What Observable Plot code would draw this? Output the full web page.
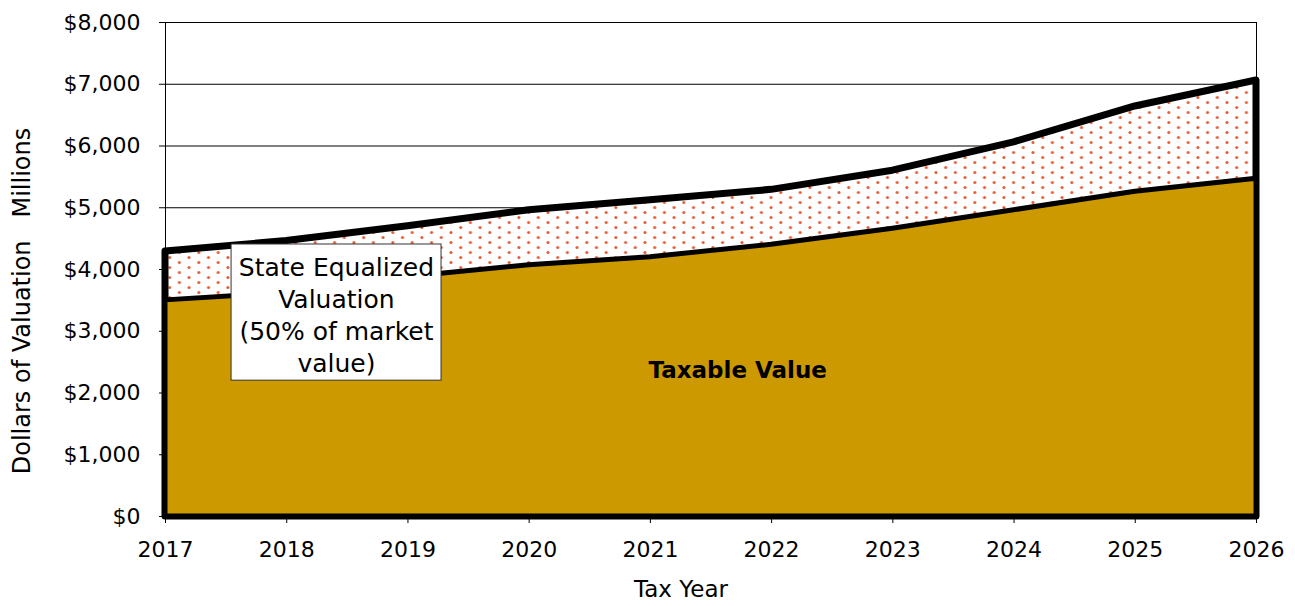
<!DOCTYPE html>
<html>
<head>
<meta charset="utf-8">
<script src="https://cdn.jsdelivr.net/npm/d3@7"></script>
<script src="https://cdn.jsdelivr.net/npm/@observablehq/plot@0.6"></script>
<style>
  body { margin: 0; background: #fff; }
</style>
</head>
<body>
<div id="chart"></div>
<script>
// Tax years and valuations, in millions of dollars
const years = [2017, 2018, 2019, 2020, 2021, 2022, 2023, 2024, 2025, 2026];
const stateEqualized = [4290, 4460, 4700, 4960, 5120, 5290, 5600, 6060, 6640, 7060];
const taxableValue = [3500, 3620, 3880, 4070, 4200, 4400, 4660, 4960, 5260, 5470];
const yTicks = [0, 1000, 2000, 3000, 4000, 5000, 6000, 7000, 8000];

const sevLabel = ["State Equalized", "Valuation", "(50% of market", "value)"];
const taxableLabel = "Taxable Value";
const xTitle = "Tax Year";
const yTitle = "Dollars of Valuation\u00a0\u00a0\u00a0Millions";

// Callout box for the state equalized band (data units)
const sevBox = [{x1: 2017.545, x2: 2019.277, y1: 2200, y2: 4405, x: 2018.41, y: 3280}];
const taxableSpot = [{x: 2021.72, y: 2364}];

const rows = years.map((year, i) => ({year, sev: stateEqualized[i], taxable: taxableValue[i]}));

const gold = "#cc9900";
const dotColor = "#e45a30";

const marginLeft = 165, marginTop = 22, marginBottom = 90, height = 606;

const chart = Plot.plot({
  width: 1295,
  height,
  marginLeft,
  marginRight: 39,
  marginTop,
  marginBottom,
  style: {fontFamily: "DejaVu Sans, sans-serif", fontSize: "22px", color: "#000", background: "#fff"},
  x: {domain: [2017, 2026]},
  y: {domain: [0, 8000]},
  marks: [
    Plot.ruleY(yTicks, {stroke: "#000", strokeWidth: 1}),
    Plot.areaY(rows, {x: "year", y: "sev", fill: "url(#sev-dots)", stroke: "#000", strokeWidth: 7, strokeLinejoin: "round"}),
    Plot.areaY(rows, {x: "year", y: "taxable", fill: gold, stroke: "#000", strokeWidth: 5, strokeLinejoin: "round"}),
    Plot.frame({stroke: "#000", strokeWidth: 1}),
    Plot.axisY(yTicks, {tickFormat: d3.format("$,"), tickSize: 6, tickPadding: 19, fontSize: 22, label: null}),
    Plot.axisX(years, {tickFormat: "d", tickSize: 7, tickPadding: 18, fontSize: 22, label: null}),
    Plot.rect(sevBox, {x1: "x1", x2: "x2", y1: "y1", y2: "y2", fill: "#fff", stroke: "#333", strokeWidth: 1}),
    Plot.text(sevBox, {x: "x", y: "y", text: () => sevLabel.join("\n"), fontSize: 25, lineHeight: 1.28, fill: "#000"}),
    Plot.text(taxableSpot, {x: "x", y: "y", text: () => taxableLabel, fontSize: 23, fontWeight: "bold", fill: "#000"}),
    Plot.text([xTitle], {frameAnchor: "bottom", dx: -30, dy: 80, fontSize: 23, fill: "#000"})
  ]
});

const svg = d3.select(chart);

// Dotted fill used by the state equalized band
const defs = svg.insert("defs", ":first-child");
const pat = defs.append("pattern")
  .attr("id", "sev-dots")
  .attr("patternUnits", "userSpaceOnUse")
  .attr("width", 19.4)
  .attr("height", 10);
pat.append("rect").attr("width", 19.4).attr("height", 10).attr("fill", "#fff");
pat.append("circle").attr("cx", 4.8).attr("cy", 2.5).attr("r", 1.5).attr("fill", dotColor);
pat.append("circle").attr("cx", 14.5).attr("cy", 7.5).attr("r", 1.5).attr("fill", dotColor);

// Rotated y-axis title, set a little below the frame's middle
svg.append("text")
  .attr("transform", `translate(22,${(marginTop + height - marginBottom) / 2 + 32}) rotate(-90)`)
  .attr("text-anchor", "middle")
  .attr("dominant-baseline", "central")
  .attr("font-size", 24)
  .attr("fill", "#000")
  .text(yTitle);

document.getElementById("chart").appendChild(chart);
</script>
</body>
</html>
